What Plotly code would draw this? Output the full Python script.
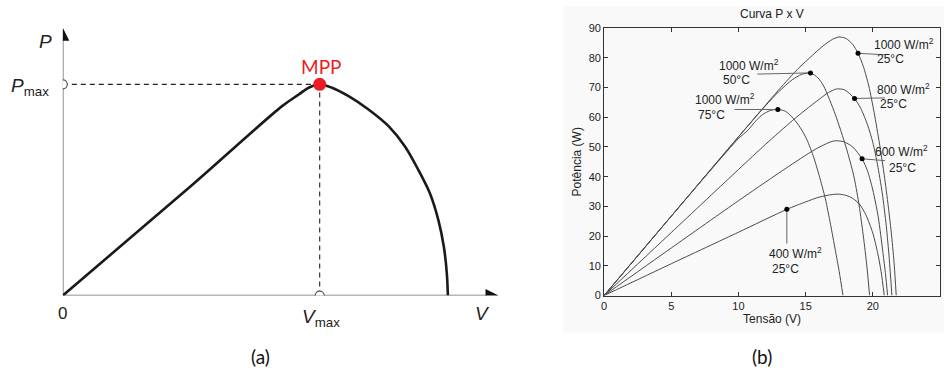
import plotly.graph_objects as go

# ---------------- Panel (a): schematic P-V curve (normalised: V/Vmax, P/Pmax) -------------
a_volt = [0, 0.5, 0.8537, 0.9185, 0.957, 1.0, 1.048, 1.1125, 1.19, 1.268, 1.332,
          1.384, 1.429, 1.462, 1.4835, 1.495, 1.499]
a_power = [0, 0.52, 0.897, 0.952, 0.984, 1.0, 0.984, 0.944, 0.881, 0.802, 0.706,
           0.595, 0.484, 0.357, 0.230, 0.103, 0.0]
a_vmax = 1.0
a_pmax = 1.0

# ---------------- Panel (b): P x V curves of a PV module -----------------------------------
volt_1000_25 = [0, 5, 10, 13, 14.5, 15.5, 16.3, 17.0, 17.5, 18.0, 18.5, 18.9, 19.3, 19.7,
                20.1, 20.5, 20.85, 21.15, 21.4, 21.6, 21.74]
pow_1000_25 = [0, 26.7, 53.4, 69.2, 76.6, 80.8, 84.0, 86.2, 87.0, 86.5, 84.5, 81.5, 77.0, 70.5,
               61.5, 51.0, 40.5, 30.0, 20.0, 10.0, 0]

volt_1000_50 = [0, 5, 10, 12, 13, 14, 14.7, 15.36, 15.9, 16.34, 17.2, 18.0, 18.57, 18.94,
                19.25, 19.53, 19.76]
pow_1000_50 = [0, 26.7, 53.4, 63.8, 68.6, 72.6, 74.4, 74.9, 73.3, 70.5, 61.0, 50.0, 40.5, 31.5,
               21.5, 11.0, 0]

volt_1000_75 = [0, 5, 10, 10.7, 11.3, 11.8, 12.4, 12.93, 13.5, 14.1, 14.6, 15.1, 15.6, 16.0,
                16.47, 16.85, 17.2, 17.5, 17.78]
pow_1000_75 = [0, 26.7, 52.8, 55.6, 58.8, 60.9, 62.3, 62.6, 62.0, 59.5, 56.5, 52.4, 46.5, 40.5,
               32.5, 24.0, 15.5, 8.0, 0]

volt_800_25 = [0, 5, 10, 12, 14, 15, 16, 16.7, 17.3, 17.9, 18.64, 19.1, 19.6, 20.0, 20.35,
               20.7, 21.0, 21.22, 21.42]
pow_800_25 = [0, 21.2, 42.4, 50.8, 58.8, 62.5, 66.0, 68.3, 69.5, 69.2, 66.3, 63.0, 57.5, 51.5,
              44.0, 34.5, 23.5, 12.5, 0]

volt_600_25 = [0, 5, 10, 13, 15, 16, 17.08, 17.8, 18.5, 19.2, 19.6, 20.0, 20.4, 20.75, 20.95, 21.1]
pow_600_25 = [0, 16.0, 31.9, 41.2, 47.2, 49.9, 52.0, 51.8, 50.0, 46.0, 42.0, 35.5, 26.5, 14.5, 7.0, 0]

volt_400_25 = [0, 5, 10, 13.6, 15, 16, 17, 17.5, 18, 18.5, 19, 19.5, 20, 20.35, 20.62, 20.85]
pow_400_25 = [0, 10.7, 21.3, 29.0, 31.5, 33.1, 34.0, 34.1, 33.7, 32.7, 30.8, 27.0, 21.0, 14.5, 8.0, 0]

curves = [
    (volt_1000_25, pow_1000_25),
    (volt_1000_50, pow_1000_50),
    (volt_1000_75, pow_1000_75),
    (volt_800_25, pow_800_25),
    (volt_600_25, pow_600_25),
    (volt_400_25, pow_400_25),
]

dot_volt = [18.9, 15.36, 12.93, 18.64, 19.2, 13.6]
dot_pow = [81.5, 74.9, 62.6, 66.3, 46.0, 29.0]
label_irr = ["1000 W/m<sup>2</sup>", "1000 W/m<sup>2</sup>", "1000 W/m<sup>2</sup>",
             "800 W/m<sup>2</sup>", "600 W/m<sup>2</sup>", "400 W/m<sup>2</sup>"]
label_temp = ["25°C", "50°C", "75°C", "25°C", "25°C", "25°C"]

x_ticks = [0, 5, 10, 15, 20, 25]
y_ticks = [0, 10, 20, 30, 40, 50, 60, 70, 80, 90]

W, H = 944, 374
# the capture compresses the page vertically a little; place things so they land right
V_SCALE, V_OFF = 0.9624, 7.1


def Y(y):
    return (y - V_OFF) / V_SCALE


def px(x):
    return x / W


def py(y):
    return 1 - Y(y) / H


fig = go.Figure()

fig.add_shape(type="rect", xref="paper", yref="paper", x0=px(562), x1=1.0, y0=py(332), y1=1.0,
              fillcolor="#f9f9f9", line_width=0, layer="below")

# ---------- panel (a) ----------
AX_COL = "#707070"
fig.add_trace(go.Scatter(x=[0, 0], y=[0, 1.22], mode="lines", line=dict(color=AX_COL, width=1.5),
                         xaxis="x", yaxis="y", showlegend=False, hoverinfo="skip"))
fig.add_trace(go.Scatter(x=[0, 1.65], y=[0, 0], mode="lines", line=dict(color=AX_COL, width=1.5),
                         xaxis="x", yaxis="y", showlegend=False, hoverinfo="skip"))
fig.add_trace(go.Scatter(x=[0], y=[1.268], mode="markers",
                         marker=dict(symbol="arrow-up", size=13, color="#111"),
                         xaxis="x", yaxis="y", showlegend=False, hoverinfo="skip"))
fig.add_trace(go.Scatter(x=[1.696], y=[0], mode="markers",
                         marker=dict(symbol="arrow-right", size=13, color="#111"),
                         xaxis="x", yaxis="y", showlegend=False, hoverinfo="skip"))
fig.add_trace(go.Scatter(x=[0, a_vmax], y=[a_pmax, a_pmax], mode="lines",
                         line=dict(color="#222", width=1.1, dash="5px,4px"),
                         xaxis="x", yaxis="y", showlegend=False, hoverinfo="skip"))
fig.add_trace(go.Scatter(x=[a_vmax, a_vmax], y=[0, a_pmax], mode="lines",
                         line=dict(color="#222", width=1.1, dash="5px,4px"),
                         xaxis="x", yaxis="y", showlegend=False, hoverinfo="skip"))
fig.add_trace(go.Scatter(x=a_volt, y=a_power, mode="lines",
                         line=dict(color="#1a1a1a", width=2.6, shape="spline", smoothing=0.9),
                         xaxis="x", yaxis="y", showlegend=False, hoverinfo="skip"))
fig.add_trace(go.Scatter(x=[0, a_vmax], y=[a_pmax, 0], mode="markers",
                         marker=dict(symbol="circle", size=9, color="white",
                                     line=dict(color="#555", width=1.2)),
                         xaxis="x", yaxis="y", showlegend=False, hoverinfo="skip"))
fig.add_trace(go.Scatter(x=[a_vmax], y=[a_pmax], mode="markers",
                         marker=dict(symbol="circle", size=13, color="#ed1c24"),
                         xaxis="x", yaxis="y", showlegend=False, hoverinfo="skip"))

# ---------- panel (b) ----------
for v, p in curves:
    fig.add_trace(go.Scatter(x=v, y=p, mode="lines",
                             line=dict(color="#4a4a4a", width=1, shape="spline", smoothing=0.7),
                             xaxis="x2", yaxis="y2", showlegend=False, hoverinfo="skip"))

leader_end = [(20.9, 81.0), (11.4, 74.5), (9.7, 62.6), (20.9, 66.5), (20.9, 45.4), (13.6, 17.5)]
for (ex, ey), dv, dp in zip(leader_end, dot_volt, dot_pow):
    fig.add_trace(go.Scatter(x=[ex, dv], y=[ey, dp], mode="lines",
                             line=dict(color="#666", width=1),
                             xaxis="x2", yaxis="y2", showlegend=False, hoverinfo="skip"))

fig.add_trace(go.Scatter(x=dot_volt, y=dot_pow, mode="markers",
                         marker=dict(symbol="circle", size=5, color="#000"),
                         xaxis="x2", yaxis="y2", showlegend=False, hoverinfo="skip"))

annotations = []
A_FONT = "Liberation Sans, Arial, sans-serif"
B_FONT = "Liberation Sans, Arial, sans-serif"


def ann(text, x, y, size, color="#222", family=A_FONT, xanchor="center", yanchor="middle"):
    annotations.append(dict(text=text, x=px(x), y=py(y), xref="paper", yref="paper",
                            showarrow=False, xanchor=xanchor, yanchor=yanchor,
                            font=dict(family=family, size=size, color=color)))


ann("<i>P</i>", 43, 42, 19)
ann("<i>P</i><sub>max</sub>", 48, 88, 19, xanchor="right")
ann("0", 60, 313, 17)
ann("<i>V</i><sub>max</sub>", 319, 317, 19)
ann("<i>V</i>", 481, 313, 19)
ann("MPP", 319, 67, 19, color="#ed1c24", family="Lato, Open Sans, sans-serif")
ann("(a)", 258, 356, 19, family="Lato, Open Sans, sans-serif", color="#111")
ann("(b)", 761, 356, 19, family="Lato, Open Sans, sans-serif", color="#111")

ann("Curva P x V", 771, 15, 12, family=B_FONT)

label_pos = [((871.7, 45), (875, 60)),
             ((716.7, 65.5), (720, 80.5)),
             ((692.7, 100), (695, 115)),
             ((875, 90), (878, 105)),
             ((873, 151.7), (886.7, 168)),
             ((766.7, 252.7), (769.3, 268.3))]
for (l1, l2), t1, t2 in zip(label_pos, label_irr, label_temp):
    ann(t1, l1[0], l1[1], 12, family=B_FONT, xanchor="left")
    ann(t2, l2[0], l2[1], 12, family=B_FONT, xanchor="left")

fig.update_layout(
    width=W, height=H,
    margin=dict(l=0, r=0, t=0, b=0),
    paper_bgcolor="white",
    plot_bgcolor="rgba(0,0,0,0)",
    annotations=annotations,
    xaxis=dict(domain=[px(60), px(500)], range=[0, 440 / 257.7], visible=False,
               fixedrange=True),
    yaxis=dict(domain=[py(295), py(25)], range=[0, 270 / 210], visible=False,
               fixedrange=True),
    xaxis2=dict(domain=[px(603), px(940)], range=[0, 25], anchor="y2",
                tickvals=x_ticks, ticks="inside", ticklen=4, tickcolor="#333",
                showline=True, linecolor="#333", linewidth=1, mirror="ticks",
                showgrid=False, zeroline=False,
                tickfont=dict(family=B_FONT, size=11, color="#222"),
                title=dict(text="Tensão (V)", font=dict(family=B_FONT, size=12, color="#222"),
                           standoff=2)),
    yaxis2=dict(domain=[py(295), py(29)], range=[0, 90], anchor="x2",
                tickvals=y_ticks, ticks="inside", ticklen=4, tickcolor="#333",
                showline=True, linecolor="#333", linewidth=1, mirror="ticks",
                showgrid=False, zeroline=False,
                tickfont=dict(family=B_FONT, size=11, color="#222"),
                title=dict(text="Potência (W)", font=dict(family=B_FONT, size=12, color="#222"),
                           standoff=4)),
)

POST = (
    "document.documentElement.style.margin='0';"
    "document.documentElement.style.overflow='hidden';"
    "document.body.style.margin='0';"
    "document.body.style.padding='0';"
    "document.body.style.overflow='hidden';"
)

fig.write_html("out.html", config={"displayModeBar": False}, post_script=POST)
